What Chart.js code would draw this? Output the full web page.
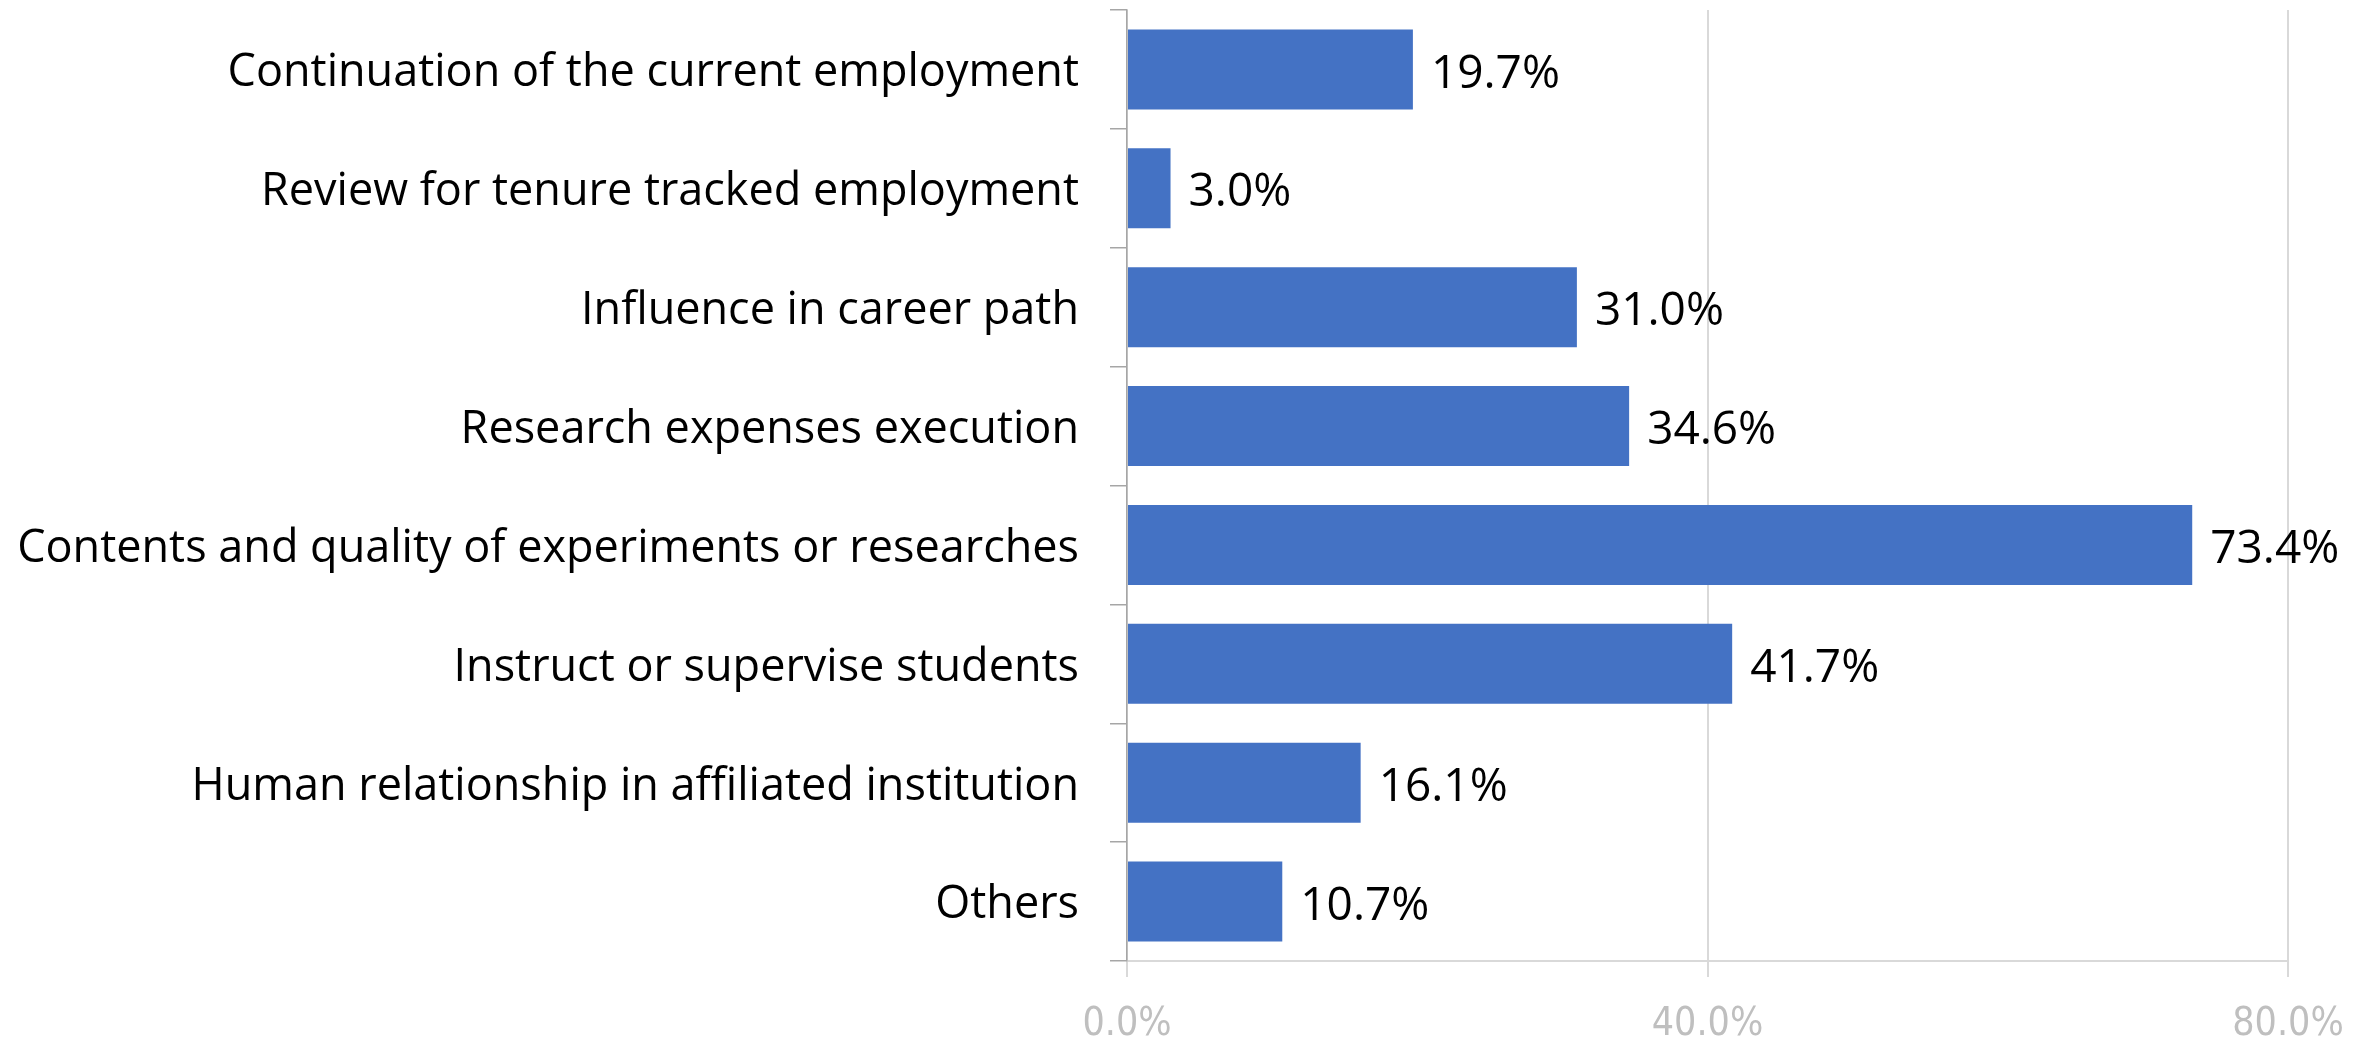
<!DOCTYPE html>
<html>
<head>
<meta charset="utf-8">
<script src="https://cdn.jsdelivr.net/npm/chart.js@4.4.1/dist/chart.umd.min.js"></script>
<style>
  html, body { margin: 0; padding: 0; background: #fff; }
  #wrap { width: 2369px; height: 1043px; }
</style>
</head>
<body>
<div id="wrap"><canvas id="myChart"></canvas></div>
<script>
const categories = [
  "Continuation of the current employment",
  "Review for tenure tracked employment",
  "Influence in career path",
  "Research expenses execution",
  "Contents and quality of experiments or researches",
  "Instruct or supervise students",
  "Human relationship in affiliated institution",
  "Others"
];
const shares = [19.7, 3.0, 31.0, 34.6, 73.4, 41.7, 16.1, 10.7];
const xTicks = [0, 40, 80];

const FONT = "'Open Sans', 'Noto Sans', sans-serif";
const AXIS_FONT = "'Liberation Sans Narrow', 'DejaVu Sans Condensed', 'Open Sans', sans-serif";

// value labels to the right of each bar
const barLabels = {
  id: "barLabels",
  afterDatasetsDraw(chart) {
    const ctx = chart.ctx;
    const meta = chart.getDatasetMeta(0);
    ctx.save();
    ctx.font = "46px " + FONT;
    ctx.fillStyle = "#000";
    ctx.textAlign = "left";
    ctx.textBaseline = "middle";
    meta.data.forEach((bar, i) => {
      ctx.fillText(shares[i].toFixed(1) + "%", bar.x + 18, bar.y + 5);
    });
    ctx.restore();
  }
};

const ctx = document.getElementById("myChart").getContext("2d");
const myChart = new Chart(ctx, {
  type: "bar",
  data: {
    labels: categories,
    datasets: [{
      data: shares,
      backgroundColor: "#4472C4",
      barPercentage: 0.673,
      categoryPercentage: 1
    }]
  },
  options: {
    indexAxis: "y",
    responsive: true,
    maintainAspectRatio: false,
    animation: false,
    layout: { padding: { top: 10, right: 81, left: 0, bottom: 0 } },
    plugins: { legend: { display: false }, tooltip: { enabled: false } },
    scales: {
      x: {
        min: 0,
        max: 80,
        afterBuildTicks: (scale) => { scale.ticks = xTicks.map(v => ({ value: v })); },
        afterFit: (scale) => { scale.height = 82; },
        grid: { color: "#d9d9d9", lineWidth: 2, tickLength: 16 },
        border: { color: "#d9d9d9", width: 2 },
        ticks: {
          color: "#bfbfbf",
          font: { family: AXIS_FONT, size: 39 },
          padding: 24,
          maxRotation: 0,
          callback: (v) => Number(v).toFixed(1) + "%"
        }
      },
      y: {
        afterFit: (scale) => {
          scale.width = 1127;
          scale.paddingTop = 0;
          scale.paddingBottom = 0;
        },
        grid: { offset: true, drawOnChartArea: false, color: "#a6a6a6", lineWidth: 1.5, tickLength: 17 },
        border: { color: "#a6a6a6", width: 1.5 },
        ticks: {
          color: "#000",
          font: { family: FONT, size: 45 },
          padding: 31,
          labelOffset: 4
        }
      }
    }
  },
  plugins: [barLabels]
});
</script>
</body>
</html>
